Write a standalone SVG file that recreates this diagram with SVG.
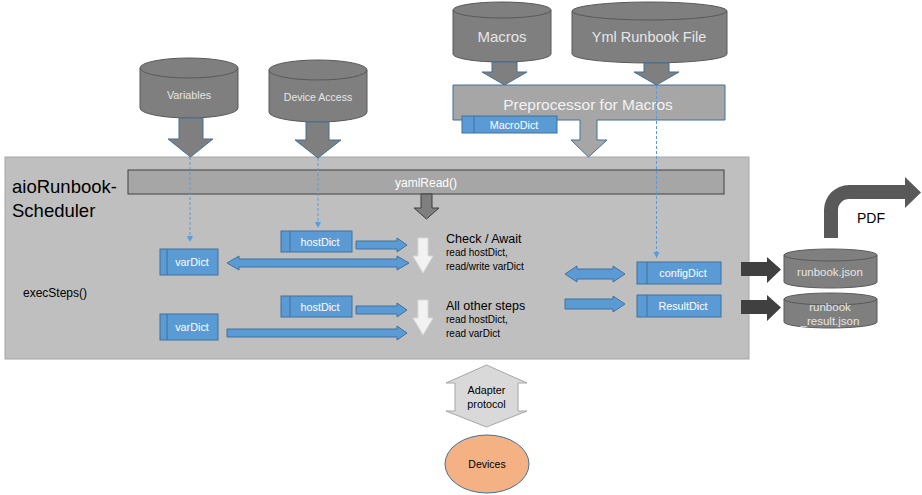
<svg xmlns="http://www.w3.org/2000/svg" width="922" height="495" viewBox="0 0 922 495">
<defs>
<style>
.cyl{fill:#7f7f7f;stroke:#595959;stroke-width:1}
.cyltop{fill:none;stroke:#595959;stroke-width:1}
.ctext{font-family:"Liberation Sans",Arial,sans-serif;fill:#e6e6e6;text-anchor:middle}
.garrow{fill:#7f7f7f;stroke:#41719c;stroke-width:1}
.box{fill:#5b9bd5;stroke:#41719c;stroke-width:1}
.bline{stroke:#41719c;stroke-width:1}
.btext{font-family:"Liberation Sans",Arial,sans-serif;fill:#ffffff;text-anchor:middle;font-size:10.8px}
.barrow{fill:#5b9bd5;stroke:#41719c;stroke-width:1}
.warrow{fill:#f2f2f2;stroke:#d9d9d9;stroke-width:1}
.dash{stroke:#5b9bd5;stroke-width:1;stroke-dasharray:3 2;fill:none;marker-end:url(#ah)}
.t{font-family:"Liberation Sans",Arial,sans-serif;fill:#000000}
.karrow{fill:#404040}
</style>
<marker id="ah" markerWidth="8" markerHeight="8" refX="6" refY="3" orient="auto" markerUnits="userSpaceOnUse">
<path d="M0,0 L6,3 L0,6 Z" fill="#5b9bd5"/>
</marker>
</defs>
<rect width="922" height="495" fill="#ffffff"/>

<g id="scheduler">
<rect x="5" y="157" width="744" height="202" fill="#bfbfbf" stroke="#a6a6a6" stroke-width="1"/>
<text class="t" x="12" y="193" font-size="18.5px">aioRunbook-</text>
<text class="t" x="12" y="217" font-size="18.5px">Scheduler</text>
<text class="t" x="23" y="297" font-size="12px">execSteps()</text>
</g>

<g id="yamlRead">
<rect x="128" y="170" width="596" height="24" fill="#a6a6a6" stroke="#404040" stroke-width="1"/>
<text x="426" y="187" font-family="Liberation Sans,Arial,sans-serif" font-size="12px" fill="#ffffff" text-anchor="middle">yamlRead()</text>
<path d="M421 194 H432 V208 H439 L426.5 219 L414 208 H421 Z" fill="#7f7f7f" stroke="#404040" stroke-width="1"/>
</g>

<g id="variables">
<path class="cyl" d="M140 68 A49 10 0 0 1 238 68 V108 A49 10 0 0 1 140 108 Z"/>
<path class="cyltop" d="M140 68 A49 10 0 0 0 238 68"/>
<text class="ctext" x="189" y="99" font-size="10.8px">Variables</text>
<path class="garrow" d="M179 118 H203 V139 H213 L190.5 157 L168 139 H179 Z"/>
</g>

<g id="deviceAccess">
<path class="cyl" d="M269 70 A49 10 0 0 1 367 70 V112 A49 10 0 0 1 269 112 Z"/>
<path class="cyltop" d="M269 70 A49 10 0 0 0 367 70"/>
<text class="ctext" x="318" y="101" font-size="10.5px">Device Access</text>
<path class="garrow" d="M306 122 H329 V140 H341 L318 158 L295 140 H306 Z"/>
</g>

<g id="macros">
<path class="cyl" d="M453 10 A49 8 0 0 1 551 10 V54 A49 8 0 0 1 453 54 Z"/>
<path class="cyltop" d="M453 10 A49 8 0 0 0 551 10"/>
<text class="ctext" x="502" y="42" font-size="15px">Macros</text>
<path class="garrow" d="M492 62 H517 V72 H527 L504.5 85 L482 72 H492 Z"/>
</g>

<g id="ymlRunbook">
<path class="cyl" d="M572 11 A77.5 9 0 0 1 727 11 V54 A77.5 9 0 0 1 572 54 Z"/>
<path class="cyltop" d="M572 11 A77.5 9 0 0 0 727 11"/>
<text class="ctext" x="649" y="42" font-size="14.5px">Yml Runbook File</text>
<path class="garrow" d="M644 63 H669 V72 H679 L656.5 85 L634 72 H644 Z"/>
</g>

<g id="preprocessor">
<path d="M453 85 H725 V120 H597 V140 H607 L588.5 157 L571 140 H580 V120 H453 Z" fill="#a6a6a6" stroke="#41719c" stroke-width="1"/>
<text x="588" y="110" font-family="Liberation Sans,Arial,sans-serif" font-size="15.5px" fill="#f2f2f2" text-anchor="middle">Preprocessor for Macros</text>
</g>

<g id="macroDict">
<rect class="box" x="462" y="116" width="95" height="17"/>
<line class="bline" x1="474" y1="116" x2="474" y2="133"/>
<text class="btext" x="514" y="128.5">MacroDict</text>
</g>

<g id="varDict1">
<rect class="box" x="160" y="249" width="58" height="26"/>
<line class="bline" x1="167" y1="249" x2="167" y2="275"/>
<text class="btext" x="192" y="266" font-size="10.5px">varDict</text>
</g>
<g id="hostDict1">
<rect class="box" x="281" y="231" width="71" height="21"/>
<line class="bline" x1="290" y1="231" x2="290" y2="252"/>
<text class="btext" x="320" y="245.5">hostDict</text>
</g>
<g id="hostDict2">
<rect class="box" x="281" y="296" width="71" height="21"/>
<line class="bline" x1="290" y1="296" x2="290" y2="317"/>
<text class="btext" x="320" y="310.5">hostDict</text>
</g>
<g id="varDict2">
<rect class="box" x="160" y="314" width="58" height="26"/>
<line class="bline" x1="167" y1="314" x2="167" y2="340"/>
<text class="btext" x="192" y="331" font-size="10.5px">varDict</text>
</g>

<g id="checkAwait">
<path class="warrow" d="M418 238 H428 V256 H433 L423 273 L413 256 H418 Z"/>
<text class="t" x="446" y="243" font-size="12.5px">Check / Await</text>
<text class="t" x="446" y="256" font-size="10px">read hostDict,</text>
<text class="t" x="446" y="270" font-size="10px">read/write varDict</text>
</g>
<g id="otherSteps">
<path class="warrow" d="M418 300 H428 V318 H433 L423 335 L413 318 H418 Z"/>
<text class="t" x="446" y="310" font-size="12.5px">All other steps</text>
<text class="t" x="446" y="323" font-size="10px">read hostDict,</text>
<text class="t" x="446" y="337" font-size="10px">read varDict</text>
</g>

<g id="configDict">
<rect class="box" x="637" y="262" width="84" height="22"/>
<line class="bline" x1="647" y1="262" x2="647" y2="284"/>
<text class="btext" x="683" y="277">configDict</text>
</g>
<g id="resultDict">
<rect class="box" x="637" y="295" width="84" height="22"/>
<line class="bline" x1="647" y1="295" x2="647" y2="317"/>
<text class="btext" x="683" y="310">ResultDict</text>
</g>

<g id="runbookJson">
<path class="cyl" d="M784 255 A46.5 6 0 0 1 877 255 V282 A46.5 6 0 0 1 784 282 Z"/>
<path class="cyltop" d="M784 255 A46.5 6 0 0 0 877 255"/>
<text class="ctext" x="830" y="276" font-size="11.5px">runbook.json</text>
</g>
<g id="runbookResultJson">
<path class="cyl" d="M784 299 A46.5 6 0 0 1 877 299 V322 A46.5 6 0 0 1 784 322 Z"/>
<path class="cyltop" d="M784 299 A46.5 6 0 0 0 877 299"/>
<text class="ctext" x="830" y="311" font-size="11.5px">runbook</text>
<text class="ctext" x="830" y="325" font-size="11.5px">_result.json</text>
</g>

<g id="pdf">
<path d="M824 238 V210 A25 25 0 0 1 849 185 H905 V177 L921 192.5 L905 208 V199 H849 A11 11 0 0 0 838 210 V238 Z" fill="#595959"/>
<text class="t" x="857" y="223" font-size="14px">PDF</text>
</g>

<g id="adapter">
<path d="M486.5 365 L527 383 H518 V411 H527 L486.5 427 L446 411 H455 V383 H446 Z" fill="#d9d9d9" stroke="#a6a6a6" stroke-width="1"/>
<text class="t" x="486.5" y="394" font-size="10.8px" text-anchor="middle">Adapter</text>
<text class="t" x="486.5" y="408" font-size="10.8px" text-anchor="middle">protocol</text>
</g>

<g id="devices">
<ellipse cx="487" cy="464" rx="42" ry="29" fill="#f4b183" stroke="#41719c" stroke-width="1"/>
<text class="t" x="487" y="468" font-size="10.5px" text-anchor="middle">Devices</text>
</g>

<g id="connectors">
<line class="dash" x1="190" y1="157" x2="190" y2="242"/>
<line class="dash" x1="318" y1="158" x2="318" y2="228"/>
<line class="dash" x1="656.5" y1="86" x2="656.5" y2="258"/>
<path class="barrow" d="M356 241 H397 V238 L407 245 L397 252 V249 H356 Z"/>
<path class="barrow" d="M227 263 L239 256 V259 H397 V256 L409 263 L397 270 V267 H239 V270 Z"/>
<path class="barrow" d="M356 306 H397 V303 L407 310 L397 317 V314 H356 Z"/>
<path class="barrow" d="M227 329 H397 V326 L407 333 L397 340 V337 H227 Z"/>
<path class="barrow" d="M565 274 L577 266 V269 H613 V266 L625 274 L613 282 V279 H577 V282 Z"/>
<path class="barrow" d="M565 299 H613 V296 L625 304 L613 312 V309 H565 Z"/>
<path class="karrow" d="M741 262 H767 V257 L781 269.5 L767 283 V276 H741 Z"/>
<path class="karrow" d="M741 300 H767 V295 L781 307.5 L767 321 V314 H741 Z"/>
</g>
</svg>
